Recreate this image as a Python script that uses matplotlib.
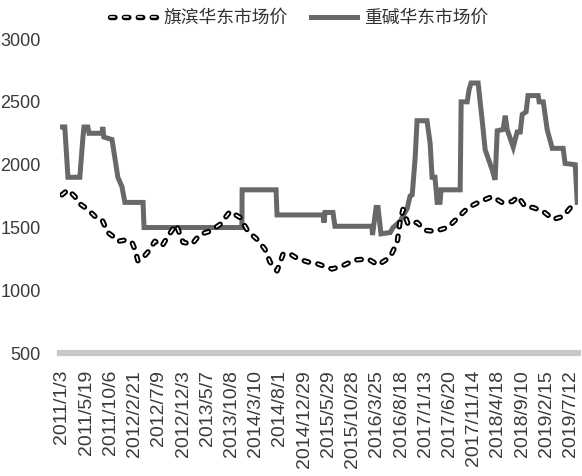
import matplotlib
matplotlib.use("Agg")
import matplotlib.pyplot as plt

# tick labels (one every 100 trading days)
tick_labels = ["2011/1/3", "2011/5/19", "2011/10/6", "2012/2/21", "2012/7/9",
               "2012/12/3", "2013/5/7", "2013/10/8", "2014/3/10", "2014/8/1",
               "2014/12/29", "2015/5/29", "2015/10/28", "2016/3/25", "2016/8/18",
               "2017/1/13", "2017/6/20", "2017/11/14", "2018/4/18", "2018/9/10",
               "2019/2/15", "2019/7/12"]
tick_step = 100

# 重碱华东市场价 (row index, price)
soda_rows = [0, 12, 25, 74, 87, 91, 107, 112, 165, 169, 173, 207, 231, 248, 260,
             335, 339, 743, 744, 884, 888, 1078, 1082, 1086, 1119, 1127, 1280,
             1282, 1297, 1305, 1317, 1355, 1367, 1396, 1425, 1437, 1446, 1458,
             1466, 1507, 1520, 1528, 1540, 1549, 1561, 1565, 1644, 1648, 1673,
             1681, 1689, 1718, 1735, 1747, 1776, 1788, 1797, 1821, 1830, 1838,
             1863, 1879, 1892, 1900, 1916, 1924, 1966, 1970, 1987, 2003, 2024,
             2069, 2077, 2119, 2127]
soda_vals = [2300, 2300, 1900, 1900, 2220, 2300, 2300, 2250, 2250, 2300, 2220,
             2200, 1900, 1825, 1700, 1700, 1500, 1500, 1800, 1800, 1600, 1600,
             1540, 1620, 1620, 1510, 1510, 1440, 1660, 1660, 1450, 1460, 1500,
             1550, 1650, 1750, 1760, 2050, 2350, 2350, 2170, 1900, 1900, 1700,
             1700, 1800, 1800, 2500, 2500, 2600, 2650, 2650, 2350, 2120, 1960,
             1880, 2270, 2280, 2390, 2280, 2140, 2260, 2260, 2400, 2420, 2550,
             2550, 2500, 2500, 2280, 2130, 2130, 2010, 2000, 1700]

# 旗滨华东市场价 (row index, price)
glass_rows = [0, 25, 54, 66, 107, 136, 165, 178, 190, 211, 231, 260, 289, 301,
              314, 335, 355, 384, 413, 438, 471, 500, 537, 570, 611, 653, 694,
              735, 768, 805, 838, 859, 888, 913, 942, 975, 1016, 1057, 1115,
              1156, 1210, 1264, 1305, 1355, 1384, 1396, 1408, 1429, 1466, 1499,
              1540, 1594, 1635, 1677, 1726, 1776, 1817, 1859, 1883, 1912, 1945,
              1987, 2028, 2069, 2110, 2127]
glass_vals = [1760, 1800, 1746, 1700, 1644, 1590, 1565, 1510, 1460, 1430, 1390,
              1400, 1383, 1328, 1234, 1260, 1305, 1391, 1352, 1430, 1525, 1383,
              1367, 1446, 1470, 1525, 1628, 1580, 1470, 1407, 1328, 1226, 1155,
              1289, 1290, 1250, 1226, 1210, 1170, 1194, 1242, 1250, 1202, 1265,
              1383, 1550, 1644, 1525, 1541, 1478, 1470, 1502, 1580, 1659, 1707,
              1746, 1699, 1707, 1746, 1667, 1659, 1628, 1565, 1589, 1683, 1700]

plt.rcParams["lines.scale_dashes"] = False

fig = plt.figure(figsize=(5.82, 4.76), dpi=100)
ax = fig.add_axes([0.103, 0.258, 0.890, 0.660])

dash = (0, (3.2, 6.8))
g1, = ax.plot(glass_rows, glass_vals, color="black", lw=3.9, linestyle=dash,
              dash_capstyle="round", zorder=3)
g2, = ax.plot(glass_rows, glass_vals, color="white", lw=1.1, linestyle=dash,
              dash_capstyle="round", zorder=4)
s1, = ax.plot(soda_rows, soda_vals, color="#686868", lw=3.6,
              solid_joinstyle="miter", zorder=2)

ax.set_ylim(500, 3000)
ax.set_xlim(-8, 2130)
ax.set_yticks(range(500, 3001, 500))
ax.set_xticks([i * tick_step for i in range(len(tick_labels))])
ax.set_xticklabels(tick_labels, rotation=90)

for side in ["top", "right", "left"]:
    ax.spines[side].set_visible(False)
ax.spines["bottom"].set_color("#c8c8c8")
ax.spines["bottom"].set_linewidth(4.5)
ax.tick_params(axis="both", length=0, colors="#3a3a3a")
ax.tick_params(axis="x", pad=12, labelsize=14)
ax.tick_params(axis="y", pad=14, labelsize=13)
for lab in ax.get_xticklabels() + ax.get_yticklabels():
    lab.set_fontfamily("Liberation Sans")

fig.legend([(g1, g2), s1], ["旗滨华东市场价", "重碱华东市场价"],
           loc="center", bbox_to_anchor=(0.514, 0.962), ncol=2, frameon=False,
           handlelength=2.6, columnspacing=1.3, handletextpad=0.4,
           prop={"family": ["Noto Sans CJK SC", "DejaVu Sans"], "size": 12.8},
           labelcolor="#303030")

fig.savefig("out.png", dpi=100)
